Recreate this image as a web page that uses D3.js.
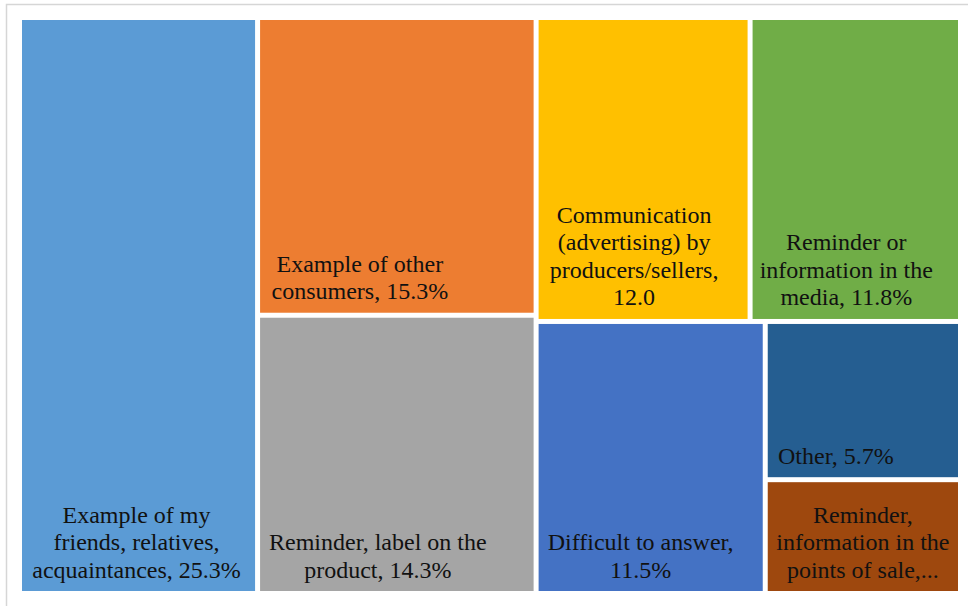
<!DOCTYPE html>
<html>
<head>
<meta charset="utf-8">
<script src="https://cdn.jsdelivr.net/npm/d3@7"></script>
<style>
    body { margin: 0; background: #fff; }
    svg { display: block; }
    .label { font-family: 'Liberation Serif', 'Tinos', 'Times New Roman', 'DejaVu Serif', serif; }
</style>
</head>
<body>
<div id="canvas"></div>
<script>
// Data
const categories = [
    'Example of my friends, relatives, acquaintances',
    'Example of other consumers',
    'Reminder, label on the product',
    'Communication (advertising) by producers/sellers',
    'Reminder or information in the media',
    'Difficult to answer',
    'Other',
    'Reminder, information in the points of sale'
]
const values = [25.3, 15.3, 14.3, 12.0, 11.8, 11.5, 5.7, 4.1]
const labelLines = [
    ['Example of my', 'friends, relatives,', 'acquaintances, 25.3%'],
    ['Example of other', 'consumers, 15.3%'],
    ['Reminder, label on the', 'product, 14.3%'],
    ['Communication', '(advertising) by', 'producers/sellers,', '12.0'],
    ['Reminder or', 'information in the', 'media, 11.8%'],
    ['Difficult to answer,', '11.5%'],
    ['Other, 5.7%'],
    ['Reminder,', 'information in the', 'points of sale,...']
]
// grouping of category indexes, as Excel laid the tiles out
const grouping = [[0], [1, 2], [[3, 4], [5, [6, 7]]]]

// Styles
const colors = ['#5B9BD5', '#ED7D31', '#A5A5A5', '#FFC000', '#70AD47', '#4472C4', '#255E91', '#9E480E']
const labelDx = [-2, -37, -19, -9, -9, -10, -27, 0]

let width = 968
let height = 606
let margin = {left: 22, top: 20, right: 10, bottom: 15}
let lineHeight = 27.5

let svg = d3.select('#canvas').append('svg')
    .attr('width', width)
    .attr('height', height)

// chart frame (only top and left edges visible)
svg.append('path')
    .attr('d', 'M6.5 ' + height + ' V4.5 H' + width)
    .attr('fill', 'none')
    .attr('stroke', '#d6d6d6')
    .attr('stroke-width', 1.5)

function build(node) {
    if (typeof node === 'number') {
        return {index: node, name: categories[node], value: values[node]}
    }
    if (node.length === 1 && typeof node[0] === 'number') {
        return build(node[0])
    }
    return {children: node.map(build)}
}

let root = d3.hierarchy({children: grouping.map(build)})
    .sum((d) => d.value || 0)

d3.treemap()
    .tile(d3.treemapSliceDice)
    .size([width - margin.left - margin.right, height - margin.top - margin.bottom])
    .paddingInner(5)(root)

let g = svg.append('g')
    .attr('transform', 'translate(' + margin.left + ',' + margin.top + ')')

let cell = g.selectAll('g.cell')
    .data(root.leaves())
    .enter()
    .append('g')
    .attr('class', 'cell')

cell.append('rect')
    .attr('x', (d) => d.x0)
    .attr('y', (d) => d.y0)
    .attr('width', (d) => d.x1 - d.x0)
    .attr('height', (d) => d.y1 - d.y0)
    .attr('fill', (d) => colors[d.data.index])

cell.append('text')
    .attr('class', 'label')
    .attr('font-size', 24)
    .attr('fill', '#111')
    .attr('text-anchor', 'middle')
    .each(function (d) {
        let lines = labelLines[d.data.index]
        let cx = (d.x0 + d.x1) / 2 + labelDx[d.data.index]
        let last = d.y1 - 13.5
        d3.select(this).selectAll('tspan')
            .data(lines)
            .enter()
            .append('tspan')
            .attr('x', cx)
            .attr('y', (t, i) => last - (lines.length - 1 - i) * lineHeight)
            .text((t) => t)
    })
</script>
</body>
</html>
